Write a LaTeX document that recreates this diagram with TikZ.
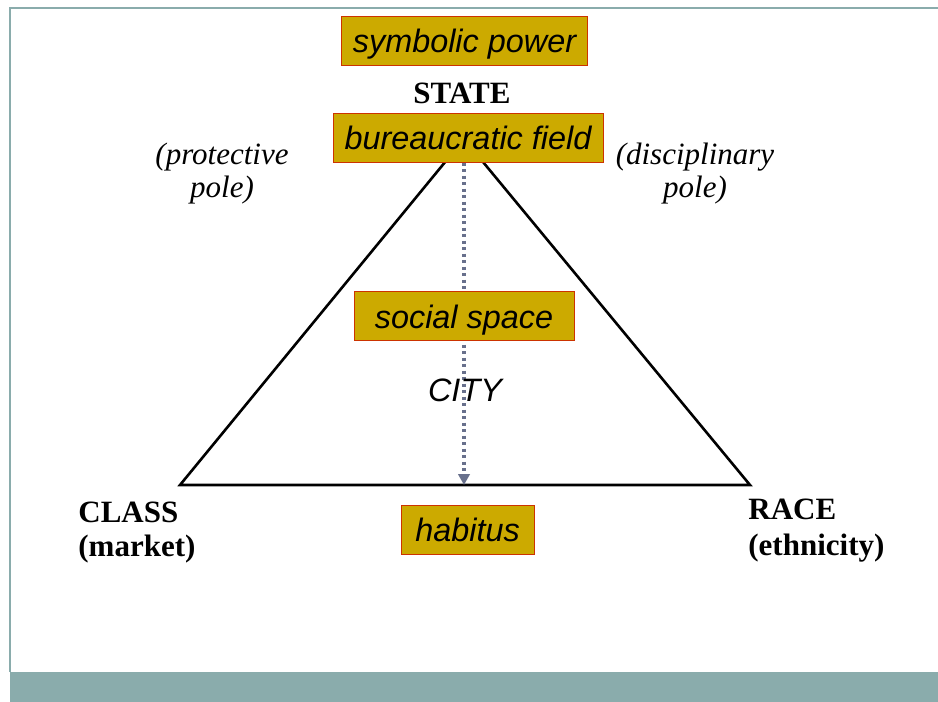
\documentclass[tikz,border=0pt]{standalone}
\usepackage{fontspec}
\setmainfont{Liberation Serif}
\setsansfont{Liberation Sans}
\usetikzlibrary{arrows.meta, backgrounds}
\definecolor{slideteal}{RGB}{138,172,172}
\definecolor{fieldgold}{RGB}{204,170,0}
\definecolor{boxred}{RGB}{204,51,0}
\definecolor{flowgray}{RGB}{104,112,140}

\tikzset{
  fieldbox/.style={draw=boxred, line width=0.5pt, fill=fieldgold, text height=18.25pt, text depth=6.25pt,
    inner sep=0pt, font=\fontsize{16.2}{19}\sffamily\itshape},
  poletext/.style={align=center, inner sep=0pt, font=\fontsize{15.5}{16.5}\selectfont\itshape},
  cornertext/.style={align=left, inner sep=0pt, anchor=west, font=\fontsize{15.5}{17}\selectfont\bfseries},
  flowarrow/.style={draw=flowgray, line width=1.9pt, dash pattern=on 1.65pt off 1.6pt,
    -{Triangle[length=5.4pt, width=5.6pt]}},
}

\begin{document}
\begin{tikzpicture}[x=0.5pt, y=-0.5pt]
\useasboundingbox (0,0) rectangle (938,702);

% boxes and labels
\node[fieldbox, minimum width=123pt] (symbolic) at (464.5,40.5) {symbolic power};
\node[font=\fontsize{15.5}{16.5}\selectfont\bfseries, inner sep=0pt] (state) at (462,93) {STATE};
\node[fieldbox, minimum width=135pt] (bureau) at (468,137.5) {bureaucratic field};
\node[poletext] (protective) at (222,174) {(protective\\pole)};
\node[poletext] (disciplinary) at (695,174) {(disciplinary\\pole)};
\node[fieldbox, minimum width=110pt] (social) at (464,316) {social space};
\node[font=\fontsize{16.2}{19}\sffamily\itshape, inner sep=0pt] (city) at (465,390) {CITY};
\node[fieldbox, minimum width=66.5pt] (habitus) at (467.5,529.5) {habitus};
\node[cornertext] (class) at (78,533) {CLASS\\(market)};
\node[cornertext, font=\fontsize{15.5}{18}\selectfont\bfseries] (race) at (748,530.5) {RACE\\(ethnicity)};

% triangle and flow behind the boxes
\begin{scope}[on background layer]
  \draw[slideteal, line width=0.6pt] (10,672) -- (10,8) -- (938,8);
  \fill[slideteal] (10,672) rectangle (938,702);
  \coordinate (apex) at (464,139);
  \coordinate (classcorner) at (180,485);
  \coordinate (racecorner) at (750,485);
  \coordinate (citybase) at (464,485);
  \draw[line width=1.3pt, line join=miter] (apex) -- (classcorner) -- (racecorner) -- cycle;
  \draw[flowarrow] (apex |- bureau.south) -- (citybase);
\end{scope}
\end{tikzpicture}
\end{document}
